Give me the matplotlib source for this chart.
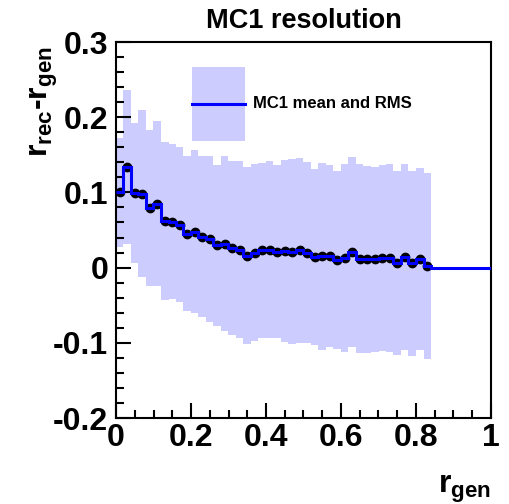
import numpy as np
import matplotlib
matplotlib.use("Agg")
import matplotlib.pyplot as plt
from matplotlib.patches import Rectangle
from matplotlib.ticker import MultipleLocator, FormatStrFormatter

plt.rcParams['font.family'] = ['Liberation Sans', 'DejaVu Sans']
plt.rcParams['mathtext.fontset'] = 'custom'
plt.rcParams['mathtext.bf'] = 'Liberation Sans:bold'
plt.rcParams['mathtext.rm'] = 'Liberation Sans'

# 50 bins of r_gen from 0 to 1, only the first 42 are filled
bin_edges = np.linspace(0.0, 1.0, 51)

# mean of r_rec - r_gen per bin
mean = [0.100, 0.134, 0.099, 0.098, 0.079, 0.085, 0.062, 0.061, 0.057, 0.045,
        0.048, 0.041, 0.038, 0.030, 0.032, 0.026, 0.024, 0.016, 0.020, 0.023,
        0.024, 0.021, 0.022, 0.021, 0.023, 0.020, 0.014, 0.015, 0.015, 0.010,
        0.013, 0.021, 0.012, 0.011, 0.011, 0.013, 0.013, 0.006, 0.014, 0.006,
        0.011, 0.002]

# RMS per bin
rms = [0.073, 0.102, 0.093, 0.111, 0.104, 0.110, 0.105, 0.103, 0.103, 0.103,
       0.108, 0.107, 0.110, 0.107, 0.116, 0.116, 0.118, 0.118, 0.118, 0.116,
       0.118, 0.115, 0.121, 0.123, 0.123, 0.120, 0.117, 0.124, 0.121, 0.118,
       0.125, 0.126, 0.126, 0.124, 0.123, 0.124, 0.125, 0.122, 0.124, 0.123,
       0.121, 0.124]

x_ticks = [0, 0.2, 0.4, 0.6, 0.8, 1]
y_ticks = [-0.2, -0.1, 0, 0.1, 0.2, 0.3]

mean = np.array(mean)
rms = np.array(rms)
n = len(mean)
mean_full = np.zeros(len(bin_edges) - 1)
mean_full[:n] = mean
centers = 0.5 * (bin_edges[:-1] + bin_edges[1:])

band_col = '#ccccff'
line_col = '#0000ff'

fig = plt.figure(figsize=(5.1, 5.04), dpi=100)
ax = fig.add_axes([116 / 510, 1 - 418 / 504, 375 / 510, 376 / 504])

ax.stairs(mean + rms, bin_edges[:n + 1], baseline=mean - rms, fill=True,
          color=band_col, lw=0, zorder=1)
ax.plot(centers[:n], mean, 'o', color='black', ms=6, zorder=2)
ax.stairs(mean_full, bin_edges, baseline=None, color=line_col, lw=2.2, zorder=3)

ax.set_xlim(0, 1)
ax.set_ylim(-0.2, 0.3)
ax.set_xticks(x_ticks)
ax.set_yticks(y_ticks)
ax.xaxis.set_minor_locator(MultipleLocator(0.05))
ax.yaxis.set_minor_locator(MultipleLocator(0.02))
ax.xaxis.set_major_formatter(FormatStrFormatter('%g'))
ax.yaxis.set_major_formatter(FormatStrFormatter('%g'))

ax.tick_params(which='both', direction='in', top=False, right=False,
               width=1.5, labelsize=23)
ax.tick_params(which='major', length=11)
ax.tick_params(which='minor', length=6)
ax.tick_params(axis='x', pad=3.5)
ax.tick_params(axis='y', pad=5.5)
for lab in ax.get_xticklabels() + ax.get_yticklabels():
    lab.set_fontweight('bold')
for sp in ax.spines.values():
    sp.set_linewidth(1.5)

ax.set_title('MC1 resolution', fontsize=19.5, fontweight='bold', pad=10)

ax.set_ylabel(r'$\mathbf{r_{rec}}$-$\mathbf{r_{gen}}$', fontsize=23,
              fontweight='bold', loc='top')
ax.yaxis.set_label_coords(-0.15, 0.99)
ax.set_xlabel(r'$\mathbf{r_{gen}}$', fontsize=23, fontweight='bold', loc='right')
ax.xaxis.set_label_coords(1.0, -0.148)

# legend drawn ROOT style: filled box with the mean line across it
ax.add_patch(Rectangle((0.203, 0.7375), 0.141, 0.1965, transform=ax.transAxes,
                       facecolor=band_col, edgecolor='none', zorder=4))
ax.plot([0.203, 0.344], [0.836, 0.836], transform=ax.transAxes,
        color=line_col, lw=2.2, zorder=5)
ax.text(0.3645, 0.836, 'MC1 mean and RMS', transform=ax.transAxes,
        fontsize=12, fontweight='bold', va='center', ha='left', zorder=5)

fig.savefig('out.png', dpi=100)
